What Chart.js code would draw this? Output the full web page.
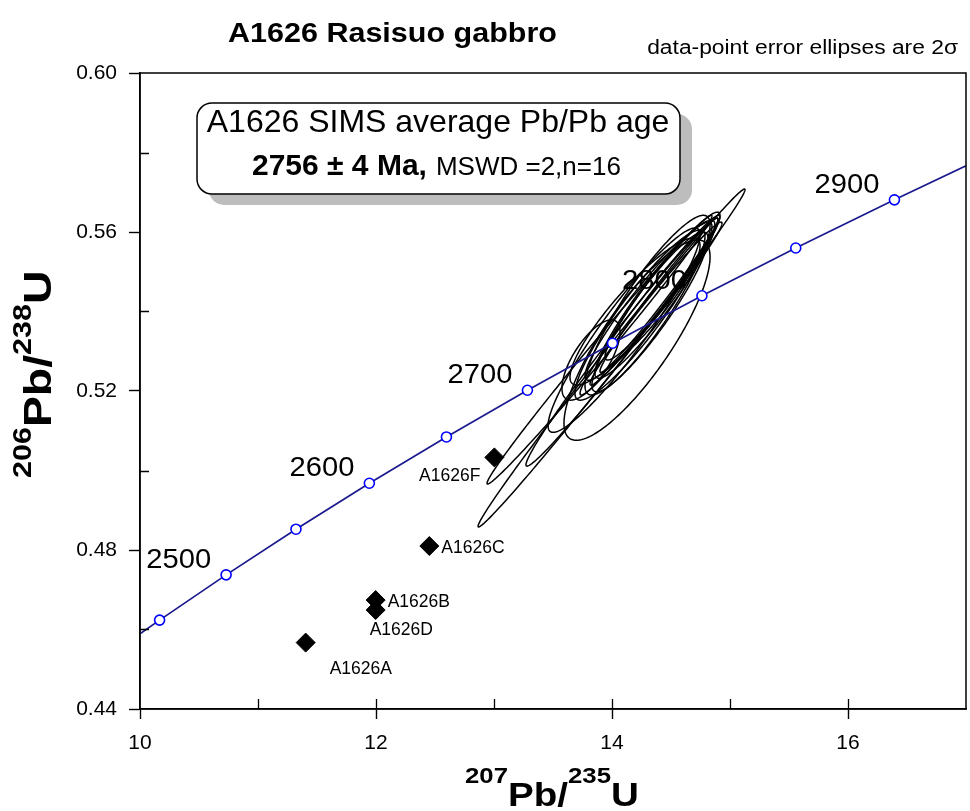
<!DOCTYPE html>
<html>
<head>
<meta charset="utf-8">
<title>A1626 Rasisuo gabbro</title>
<script src="https://cdn.jsdelivr.net/npm/chart.js@4.4.1/dist/chart.umd.min.js"></script>
<style>
  html, body { margin: 0; padding: 0; background: #fff; }
  canvas { display: block; }
</style>
</head>
<body>
<canvas id="c" width="970" height="811"></canvas>
<script>
// Concordia reference ages (Ma) and their isotope ratios
const concordiaAges = [2450, 2500, 2550, 2600, 2650, 2700, 2750, 2800, 2850, 2900];
const concordiaX = [10.1661, 10.7298, 11.3218, 11.9437, 12.5969, 13.2834, 14.0043, 14.7621, 15.5573, 16.3935];
const concordiaY = [0.46236, 0.47375, 0.48523, 0.49679, 0.50844, 0.52019, 0.53203, 0.54396, 0.55598, 0.56809];
// Where the concordia curve enters and leaves the plot
const curveEdgeX = [10, 17];
const curveEdgeY = [0.45891, 0.57664];
const labelledAges = [2500, 2600, 2700, 2800, 2900];

// Spot analyses: 207Pb/235U, 2 sigma, 206Pb/238U, 2 sigma, error correlation
const ellX   = [13.996, 13.894, 14.085, 14.102, 14.212, 13.822, 14.301, 14.322, 14.373, 14.364, 14.237, 14.398, 14.309, 14.428, 14.322, 14.195];
const ellSX  = [1.131, 0.953, 0.814, 0.644, 0.619, 0.246, 0.530, 0.593, 0.559, 0.508, 0.551, 0.500, 0.538, 0.487, 0.492, 0.551];
const ellY   = [0.5283, 0.5304, 0.5323, 0.5353, 0.5328, 0.5278, 0.5416, 0.5416, 0.5420, 0.5431, 0.5391, 0.5441, 0.5426, 0.5464, 0.5399, 0.5400];
const ellSY  = [0.0425, 0.0338, 0.0312, 0.0257, 0.0252, 0.0101, 0.0226, 0.0226, 0.0205, 0.0199, 0.0214, 0.0194, 0.0199, 0.0186, 0.0201, 0.0185];
const ellRho = [0.996, 0.9946, 0.989, 0.933, 0.830, 0.700, 0.893, 0.982, 0.985, 0.937, 0.917, 0.986, 0.947, 0.954, 0.917, 0.893];

// Discordant analyses left out of the mean age
const outlierNames = ['A1626A', 'A1626B', 'A1626C', 'A1626D', 'A1626F'];
const outlierX = [11.404, 11.997, 12.452, 11.997, 13.003];
const outlierY = [0.4567, 0.4674, 0.4810, 0.4649, 0.5033];

// Labelled axis ticks
const xLabelTicks = [10, 12, 14, 16];
const yLabelTicks = [0.44, 0.48, 0.52, 0.56, 0.60];

// Label placement beside each discordant spot: [dx, dy, align]
const outlierLabelPlacement = {
  A1626A: [24, 31, 'left'],
  A1626B: [12, 7, 'left'],
  A1626C: [12, 7, 'left'],
  A1626D: [-6, 25, 'left'],
  A1626F: [-14, 24, 'right']
};

const FONT = '"Liberation Sans", Arial, Helvetica, sans-serif';

const concordiaPoints = concordiaX.map((x, i) => ({ x, y: concordiaY[i] }));
const curvePoints = [{ x: curveEdgeX[0], y: curveEdgeY[0] }]
  .concat(concordiaPoints)
  .concat([{ x: curveEdgeX[1], y: curveEdgeY[1] }]);
const outlierPoints = outlierX.map((x, i) => ({ x, y: outlierY[i] }));

const isLabelledX = v => xLabelTicks.some(t => Math.abs(t - v) < 1e-6);
const yLabelFor = v => yLabelTicks.find(t => Math.abs(t - v) < 1e-6);

function drawText(ctx, text, x, y, font, sx, align) {
  ctx.save();
  ctx.font = font;
  ctx.textAlign = align || 'left';
  ctx.textBaseline = 'alphabetic';
  ctx.translate(x, y);
  ctx.scale(sx || 1, 1);
  ctx.fillText(text, 0, 0);
  ctx.restore();
}

// Draws a label with superscript mass numbers, starting at the origin of the current transform
function drawIsotopeLabel(ctx, parts, mainFont, supFont, supRise, sx) {
  ctx.save();
  ctx.scale(sx, 1);
  ctx.textBaseline = 'alphabetic';
  ctx.textAlign = 'left';
  let cx = 0;
  parts.forEach(p => {
    ctx.font = p.sup ? supFont : mainFont;
    ctx.fillText(p.t, cx, p.sup ? -supRise : 0);
    cx += ctx.measureText(p.t).width;
  });
  ctx.restore();
}

function roundRect(ctx, x, y, w, h, r) {
  ctx.beginPath();
  ctx.moveTo(x + r, y);
  ctx.lineTo(x + w - r, y);
  ctx.arcTo(x + w, y, x + w, y + r, r);
  ctx.lineTo(x + w, y + h - r);
  ctx.arcTo(x + w, y + h, x + w - r, y + h, r);
  ctx.lineTo(x + r, y + h);
  ctx.arcTo(x, y + h, x, y + h - r, r);
  ctx.lineTo(x, y + r);
  ctx.arcTo(x, y, x + r, y, r);
  ctx.closePath();
}

const background = {
  id: 'background',
  beforeDraw(chart) {
    const ctx = chart.ctx;
    ctx.save();
    ctx.fillStyle = '#fff';
    ctx.fillRect(0, 0, chart.width, chart.height);
    ctx.restore();
  }
};

// Age labels on the concordia and the 2-sigma error ellipses
const ellipses = {
  id: 'ellipses',
  beforeDatasetsDraw(chart) {
    const { ctx, scales: { x, y } } = chart;
    ctx.save();
    ctx.fillStyle = '#000';
    labelledAges.forEach(age => {
      const i = concordiaAges.indexOf(age);
      const px = x.getPixelForValue(concordiaX[i]);
      const py = y.getPixelForValue(concordiaY[i]);
      drawText(ctx, String(age), px - 15, py - 7, '27px ' + FONT, 1.08, 'right');
    });

    ctx.strokeStyle = '#000';
    ctx.lineWidth = 1.5;
    for (let i = 0; i < ellX.length; i++) {
      const s = Math.sqrt(1 - ellRho[i] * ellRho[i]);
      ctx.beginPath();
      for (let k = 0; k <= 240; k++) {
        const t = k / 240 * 2 * Math.PI;
        const vx = ellX[i] + ellSX[i] * Math.cos(t);
        const vy = ellY[i] + ellSY[i] * (ellRho[i] * Math.cos(t) + s * Math.sin(t));
        const px = x.getPixelForValue(vx);
        const py = y.getPixelForValue(vy);
        if (k === 0) ctx.moveTo(px, py); else ctx.lineTo(px, py);
      }
      ctx.closePath();
      ctx.stroke();
    }
    ctx.restore();
  }
};

const annotations = {
  id: 'annotations',
  afterDraw(chart) {
    const { ctx, chartArea: a, scales: { x, y } } = chart;
    ctx.save();

    // frame
    ctx.strokeStyle = '#000';
    ctx.lineWidth = 1.5;
    ctx.strokeRect(a.left, a.top, a.right - a.left, a.bottom - a.top);

    // inward tick marks
    ctx.lineWidth = 1.3;
    ctx.beginPath();
    x.ticks.forEach(t => {
      if (t.value <= x.min || t.value >= x.max) return;
      const px = Math.round(x.getPixelForValue(t.value)) + 0.5;
      ctx.moveTo(px, a.bottom);
      ctx.lineTo(px, a.bottom - 10);
    });
    y.ticks.forEach(t => {
      if (yLabelFor(t.value) !== undefined) return;
      const py = Math.round(y.getPixelForValue(t.value)) + 0.5;
      ctx.moveTo(a.left, py);
      ctx.lineTo(a.left + 9, py);
    });
    ctx.stroke();

    // discordant spot names
    ctx.fillStyle = '#000';
    outlierNames.forEach((name, i) => {
      const p = outlierLabelPlacement[name];
      const px = x.getPixelForValue(outlierX[i]);
      const py = y.getPixelForValue(outlierY[i]);
      drawText(ctx, name, px + p[0], py + p[1], '17.5px ' + FONT, 1, p[2]);
    });

    // title and note
    drawText(ctx, 'A1626 Rasisuo gabbro', 228, 42, 'bold 27px ' + FONT, 1.13, 'left');
    drawText(ctx, 'data-point error ellipses are 2\u03C3', 958, 54, '19.5px ' + FONT, 1.17, 'right');

    // age box with shadow
    ctx.fillStyle = '#bdbdbd';
    roundRect(ctx, 209, 114, 483, 91, 15);
    ctx.fill();
    ctx.fillStyle = '#fff';
    roundRect(ctx, 197, 103, 483, 91, 15);
    ctx.fill();
    ctx.strokeStyle = '#000';
    ctx.lineWidth = 1.5;
    ctx.stroke();
    ctx.fillStyle = '#000';
    drawText(ctx, 'A1626 SIMS average Pb/Pb age', 438, 132, '32px ' + FONT, 1, 'center');
    ctx.font = 'bold 30px ' + FONT;
    const boldPart = '2756 \u00B1 4 Ma,';
    const bw = ctx.measureText(boldPart).width;
    drawText(ctx, boldPart, 252, 175, 'bold 30px ' + FONT, 1, 'left');
    drawText(ctx, 'MSWD =2,n=16', 252 + bw + 9, 175, '26px ' + FONT, 1, 'left');

    // axis titles
    ctx.save();
    ctx.translate(465, 806);
    drawIsotopeLabel(ctx, [{ t: '207', sup: true }, { t: 'Pb/' }, { t: '235', sup: true }, { t: 'U' }],
      'bold 33px ' + FONT, 'bold 22px ' + FONT, 23, 1.17);
    ctx.restore();

    ctx.save();
    ctx.translate(51, 478);
    ctx.rotate(-Math.PI / 2);
    drawIsotopeLabel(ctx, [{ t: '206', sup: true }, { t: 'Pb/' }, { t: '238', sup: true }, { t: 'U' }],
      'bold 38px ' + FONT, 'bold 25px ' + FONT, 20, 1.22);
    ctx.restore();

    ctx.restore();
  }
};

new Chart(document.getElementById('c'), {
  type: 'scatter',
  data: {
    datasets: [
      {
        type: 'line',
        label: 'Concordia',
        data: curvePoints,
        borderColor: '#1a1a8f',
        borderWidth: 1.7,
        pointRadius: 0,
        fill: false,
        tension: 0,
        order: 3
      },
      {
        label: 'Concordia ages',
        data: concordiaPoints,
        showLine: false,
        pointStyle: 'circle',
        pointRadius: 5,
        pointBackgroundColor: '#fff',
        pointBorderColor: '#0000ff',
        pointBorderWidth: 1.6,
        order: 1
      },
      {
        label: 'Discordant spots',
        data: outlierPoints,
        showLine: false,
        pointStyle: 'rectRot',
        pointRadius: 9.5,
        pointBackgroundColor: '#000',
        pointBorderColor: '#000',
        pointBorderWidth: 1,
        order: 2
      }
    ]
  },
  options: {
    responsive: false,
    devicePixelRatio: 1,
    animation: false,
    events: [],
    layout: { autoPadding: false, padding: { top: 73, right: 4, left: 0, bottom: 0 } },
    plugins: { legend: { display: false }, tooltip: { enabled: false }, title: { display: false } },
    scales: {
      x: {
        type: 'linear',
        min: 10,
        max: 17,
        afterFit(s) { s.height = 102; s.paddingLeft = 0; s.paddingRight = 0; },
        ticks: {
          stepSize: 1,
          autoSkip: false,
          maxRotation: 0,
          padding: 12,
          color: '#000',
          font: { family: FONT, size: 21 },
          callback: v => (isLabelledX(v) ? String(v) : '')
        },
        grid: {
          display: true,
          drawOnChartArea: false,
          drawTicks: true,
          tickLength: 10,
          tickWidth: 1.4,
          tickColor: c => (c.tick && isLabelledX(c.tick.value) ? '#000' : 'rgba(0,0,0,0)')
        },
        border: { display: true, color: '#000', width: 1.5 }
      },
      y: {
        type: 'linear',
        min: 0.44,
        max: 0.60,
        afterFit(s) { s.width = 140; s.paddingTop = 0; s.paddingBottom = 0; },
        ticks: {
          stepSize: 0.02,
          autoSkip: false,
          padding: 12,
          color: '#000',
          font: { family: FONT, size: 21 },
          callback: v => { const l = yLabelFor(v); return l !== undefined ? l.toFixed(2) : ''; }
        },
        grid: {
          display: true,
          drawOnChartArea: false,
          drawTicks: true,
          tickLength: 11,
          tickWidth: 1.4,
          tickColor: c => (c.tick && yLabelFor(c.tick.value) !== undefined ? '#000' : 'rgba(0,0,0,0)')
        },
        border: { display: true, color: '#000', width: 1.5 }
      }
    }
  },
  plugins: [background, ellipses, annotations]
});
</script>
</body>
</html>
